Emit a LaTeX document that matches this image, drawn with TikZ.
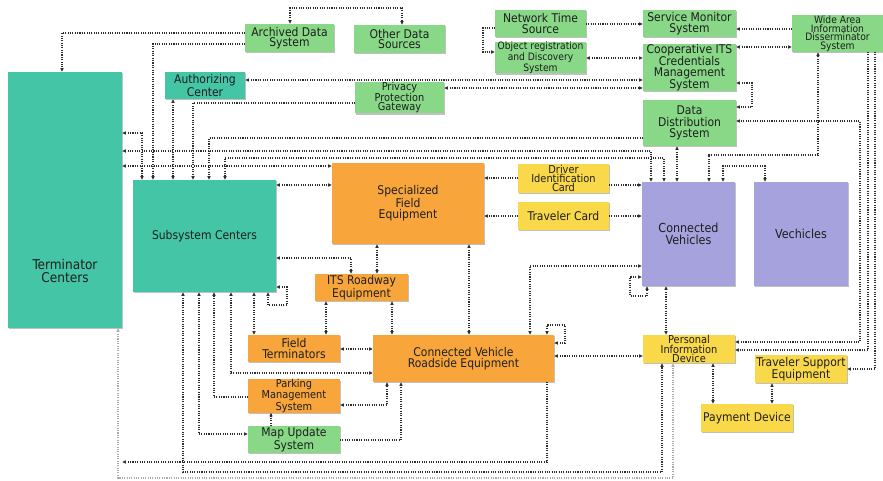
\documentclass[tikz,border=0pt]{standalone}
\usepackage{fontspec}
\setmainfont{DejaVu Sans Condensed}
\usetikzlibrary{arrows.meta,shadows}

\definecolor{cteal}{RGB}{68,198,166}
\definecolor{cgreen}{RGB}{136,216,136}
\definecolor{corange}{RGB}{248,166,60}
\definecolor{cyellow}{RGB}{249,217,74}
\definecolor{cpurple}{RGB}{165,162,221}
\definecolor{cline}{RGB}{45,45,45}
\definecolor{ctext}{RGB}{30,30,30}

\newcommand\fbig{\fontsize{12}{11.5}\selectfont}
\newcommand\fmid{\fontsize{12}{10.5}\selectfont}
\newcommand\fthree{\fontsize{10.9}{9.3}\selectfont}
\newcommand\ffour{\fontsize{10.2}{8.6}\selectfont}

\begin{document}
\begin{tikzpicture}[x=1pt,y=-1pt,
  box/.style={rectangle, inner sep=0pt, outer sep=0pt, align=center, text=ctext,
    drop shadow={shadow xshift=1.3pt, shadow yshift=-1.3pt, opacity=0.35, fill=black!70}},
  tealbox/.style={box, fill=cteal},
  greenbox/.style={box, fill=cgreen},
  orangebox/.style={box, fill=corange},
  yellowbox/.style={box, fill=cyellow},
  purplebox/.style={box, fill=cpurple},
  sz/.style 2 args={minimum width=#1pt, minimum height=#2pt},
  link/.style={draw=cline, line width=1.05pt, dash pattern=on 1.05pt off 1.3pt,
    >={Latex[length=3.8pt,width=3.6pt]}},
  faint/.style={link, draw=cline!40}
]
\useasboundingbox[fill=white] (0,0) rectangle (883,480);

% ---------- centres ----------
\node[tealbox, sz={114}{256}] (term) at (65,200) {};
\node[text=ctext, align=center, font=\fontsize{13.5}{12.5}\selectfont] (termlbl) at (65,271) {Terminator\\Centers};
\node[tealbox, sz={143}{112}, font=\fbig] (sub) at (204.5,236) {Subsystem Centers};
\node[tealbox, sz={80}{27}, font=\fmid] (auth) at (205,85.5) {Authorizing\\Center};

% ---------- support systems ----------
\node[greenbox, sz={89}{28}, font=\fmid] (ads) at (289.5,38) {Archived Data\\System};
\node[greenbox, sz={91}{28}, font=\fmid] (ods) at (399.5,39) {Other Data\\Sources};
\node[greenbox, sz={89}{27}, font=\fthree] (ppg) at (399.5,97.5) {Privacy\\Protection\\Gateway};
\node[greenbox, sz={91}{27}, font=\fmid] (nts) at (540.5,23.5) {Network Time\\Source};
\node[greenbox, sz={91}{27}, font=\ffour] (ord) at (540.5,57.5) {Object registration\\and Discovery\\System};
\node[greenbox, sz={93}{27}, font=\fmid] (sms) at (689.5,23.5) {Service Monitor\\System};
\node[greenbox, sz={93}{47}, font=\fontsize{12}{10.2}\selectfont] (cred) at (689.5,67.5) {Cooperative ITS\\Credentials\\Management\\System};
\node[greenbox, sz={93}{46}, font=\fontsize{12}{11.5}\selectfont] (dds) at (689.5,123) {Data\\Distribution\\System};
\node[greenbox, sz={91}{37}, font=\ffour] (waid) at (837.5,33.5) {Wide Area\\Information\\Disserminator\\System};
\node[greenbox, sz={92}{27}, font=\fmid] (mus) at (294,439.5) {Map Update\\System};

% ---------- field equipment ----------
\node[orangebox, sz={152}{81}, font=\fbig] (sfe) at (408,203.5) {Specialized\\Field\\Equipment};
\node[orangebox, sz={93}{27}, font=\fmid] (itsr) at (361.5,287.5) {ITS Roadway\\Equipment};
\node[orangebox, sz={92}{27}, font=\fmid] (ft) at (294,348.5) {Field\\Terminators};
\node[orangebox, sz={181}{47}, font=\fbig] (cvre) at (463.5,358.5) {Connected Vehicle\\Roadside Equipment};
\node[orangebox, sz={92}{28}, font=\fthree] (pms) at (294,396) {Parking\\Management\\System};

% ---------- traveller devices ----------
\node[yellowbox, sz={91}{29}, font=\fthree] (dic) at (563.5,178.5) {Driver\\Identification\\Card};
\node[yellowbox, sz={91}{28}, font=\fmid] (tc) at (563.5,216) {Traveler Card};
\node[yellowbox, sz={92}{28}, font=\fthree] (pid) at (689,349) {Personal\\Information\\Device};
\node[yellowbox, sz={92}{28}, font=\fmid] (tse) at (801,369) {Traveler Support\\Equipment};
\node[yellowbox, sz={92}{28}, font=\fmid] (pay) at (747,418) {Payment Device};

% ---------- vehicles ----------
\node[purplebox, sz={93}{104}, font=\fontsize{12.4}{11.5}\selectfont] (cv) at (688.5,234) {Connected\\Vehicles};
\node[purplebox, sz={94}{104}, font=\fontsize{12.4}{11.5}\selectfont] (veh) at (801,234) {Vechicles};

% ---------- connectors: top row ----------
\draw[link,<->] (ads.north -| 290,0) |- (402,8) -- (ods.north -| 402,0);
\draw[link,->] (ads.west |- 0,33) -| (term.north -| 62,0);
\draw[link,->] (ads.west |- 0,44) -| (sub.north -| 153,0);
\draw[link,<->] (auth.east |- 0,80) -- (cred.west |- 0,80);
\draw[link,<->] (ppg.east |- 0,88) -- (cred.west |- 0,88);
\draw[link,->] (ppg.west |- 0,103) -| (sub.north -| 193,0);
\draw[link,<->] (auth.south -| 173,0) -- (sub.north -| 173,0);
\draw[link,->] (nts.west |- 0,28) -| (483,52) -- (ord.west |- 0,52);
\draw[link,->] (nts.east |- 0,24) -- (sms.west |- 0,24);
\draw[link,<->] (ord.east |- 0,58) -- (cred.west |- 0,58);
\draw[link,->] (waid.west |- 0,29) -- (sms.east |- 0,29);
\draw[link,<->] (cred.east |- 0,47) -- (waid.west |- 0,47);
\draw[link,<->] (cred.east |- 0,83) -| (752,107) -- (dds.east |- 0,107);

% ---------- connectors: right side ----------
\draw[link,<->] (pid.east |- 0,342) -| (860,121) -- (dds.east |- 0,121);
\draw[link,->] (waid.south -| 868,0) |- (pid.east |- 0,350);
\draw[link,->] (waid.south -| 875,0) |- (tse.east |- 0,369);
\draw[link,<->] (cv.north -| 709,0) |- (818,155) -- (waid.south -| 818,0);
\draw[link,<->] (dds.south -| 677,0) -- (cv.north -| 677,0);
\draw[link,<->] (cv.north -| 723,0) |- (765,166) -- (veh.north -| 765,0);

% ---------- connectors: long runs to the centres ----------
\draw[link,->] (dds.west |- 0,138) -| (sub.north -| 209,0);
\draw[link,<->] (cv.north -| 651,0) |- (term.east |- 0,151);
\draw[link,<->] (cv.north -| 664,0) |- (225,158) -- (sub.north -| 225,0);
\draw[link,<->] (term.east |- 0,133) -| (sub.north -| 142,0);
\draw[link,<->] (term.east |- 0,166) -- (sfe.west |- 0,166);
\draw[link,<->] (sub.east |- 0,185) -- (sfe.west |- 0,185);

% ---------- connectors: cards ----------
\draw[link,->] (dic.west |- 0,178) -- (sfe.east |- 0,178);
\draw[link,->] (dic.east |- 0,185) -- (cv.west |- 0,185);
\draw[link,->] (tc.west |- 0,216) -- (sfe.east |- 0,216);
\draw[link,->] (tc.east |- 0,216) -- (cv.west |- 0,216);

% ---------- connectors: field side ----------
\draw[link,<->] (sub.east |- 0,258) -| (itsr.north -| 351,0);
\draw[link,<->] (sfe.south -| 377,0) -- (itsr.north -| 377,0);
\draw[link,<->] (sub.east |- 0,287) -| (287,305) -| (sub.south -| 268,0);
\draw[link,<->] (sub.south -| 254,0) -- (ft.north -| 254,0);
\draw[link,<->] (sub.south -| 231,0) |- (cvre.west |- 0,373);
\draw[link,->] (pms.west |- 0,397) -| (sub.south -| 214,0);
\draw[link,<->] (sub.south -| 199,0) |- (mus.west |- 0,434);
\draw[link,<->] (sub.south -| 183,0) |- (662,472) -- (pid.south -| 662,0);
\draw[faint,<->] (term.south -| 118,0) |- (673,478) -- (pid.south -| 673,0);
\draw[link,->] (cvre.south -| 547,0) |- (term.east |- 0,462);
\draw[link,->] (mus.east |- 0,440) -| (cvre.south -| 401,0);
\draw[link,<->] (pms.east |- 0,405) -| (cvre.south -| 387,0);
\draw[link,->] (mus.north -| 271,0) -- (pms.south -| 271,0);
\draw[link,<->] (ft.east |- 0,349) -- (cvre.west |- 0,349);
\draw[link,<->] (itsr.south -| 326,0) -- (ft.north -| 326,0);
\draw[link,<->] (itsr.south -| 392,0) -- (cvre.north -| 392,0);
\draw[link,<->] (sfe.south -| 469,0) -- (cvre.north -| 469,0);
\draw[link,<->] (cvre.north -| 530,0) |- (cv.west |- 0,266);
\draw[link,<->] (cvre.north -| 547,0) |- (565,325) |- (cvre.east |- 0,343);
\draw[link,<->] (cvre.east |- 0,356) -- (pid.west |- 0,356);

% ---------- connectors: vehicles and devices ----------
\draw[link,<->] (cv.west |- 0,277) -| (630,296) -| (cv.south -| 647,0);
\draw[link,<->] (cv.south -| 666,0) -- (pid.north -| 666,0);
\draw[link,<->] (pid.south -| 713,0) -- (pay.north -| 713,0);
\draw[link,<->] (tse.south -| 772,0) -- (pay.north -| 772,0);
\end{tikzpicture}
\end{document}
